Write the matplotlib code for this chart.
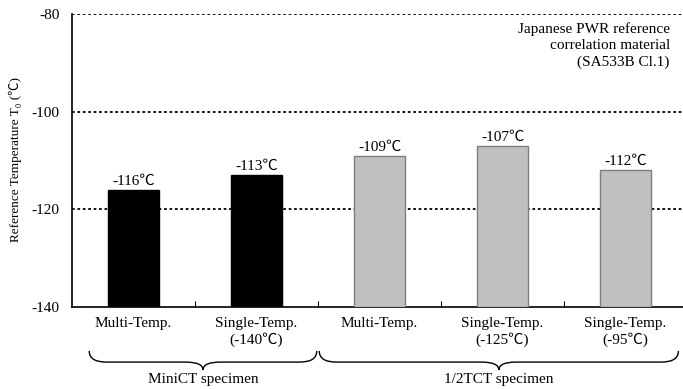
import numpy as np
import matplotlib
matplotlib.use("Agg")
import matplotlib.pyplot as plt
from matplotlib.path import Path
from matplotlib.patches import PathPatch

# Data
categories = ["Multi-Temp.", "Single-Temp.\n(-140\u2103)", "Multi-Temp.",
              "Single-Temp.\n(-125\u2103)", "Single-Temp.\n(-95\u2103)"]
t0_values = [-116, -113, -109, -107, -112]
bar_colors = ["black", "black", "#c0c0c0", "#c0c0c0", "#c0c0c0"]
edge_colors = ["black", "black", "#7f7f7f", "#7f7f7f", "#7f7f7f"]
groups = ["MiniCT specimen", "1/2TCT specimen"]
group_spans = [(-0.36, 1.49), (1.51, 4.43)]
y_base = -140
y_ticks = [-140, -120, -100, -80]

plt.rcParams["font.family"] = ["Liberation Serif", "Noto Sans CJK JP", "DejaVu Sans"]

fig = plt.figure(figsize=(6.83, 3.89), dpi=100)
ax = fig.add_axes([72 / 683, 82 / 389, 615 / 683, 293 / 389])

x = np.arange(len(t0_values))
heights = np.array(t0_values) - y_base
ax.bar(x, heights, bottom=y_base, width=0.41, color=bar_colors,
       edgecolor=edge_colors, linewidth=1.0, zorder=3)

for xi, v in zip(x, t0_values):
    ax.text(xi, v + 0.4, f"{v}\u2103", ha="center", va="bottom", fontsize=11)

ax.set_xlim(-0.5, len(t0_values) - 0.5)
ax.set_ylim(-140, -80)
ax.set_yticks(y_ticks)
ax.set_yticklabels([str(t) for t in y_ticks], fontsize=11)
ax.tick_params(axis="y", length=0, pad=9)

for g in [-120, -100, -80]:
    ax.axhline(g, color="black", linestyle=(0, (1.5, 1.5)), linewidth=1.3, zorder=1)

ax.set_xticks(x)
ax.set_xticklabels(categories, fontsize=11, linespacing=1.2)
ax.tick_params(axis="x", which="major", length=0, pad=7)
ax.set_xticks(np.arange(0.5, len(t0_values) - 0.5, 1), minor=True)
ax.tick_params(axis="x", which="minor", direction="in", length=4, width=0.8)

for s in ["top", "right"]:
    ax.spines[s].set_visible(False)
ax.spines["left"].set_linewidth(1.2)
ax.spines["bottom"].set_linewidth(1.2)

fig.text(15 / 683, (389 - 160) / 389, "Reference Temperature T\u2080 (\u2103)",
         rotation=90, ha="center", va="center", fontsize=9.5)

ax.text(0.972, 0.972, "Japanese PWR reference\ncorrelation material\n(SA533B Cl.1)",
        transform=ax.transAxes, ha="right", va="top", fontsize=11,
        multialignment="right", linespacing=1.3)

# curly braces under the groups
trans = ax.get_xaxis_transform()
y_end, y_mid, y_tip = -0.150, -0.188, -0.215
d = 0.14
for (x0, x1), name in zip(group_spans, groups):
    xm = (x0 + x1) / 2
    verts = [(x0, y_end), (x0, y_mid), (x0 + d, y_mid),
             (xm - d, y_mid), (xm, y_mid), (xm, y_tip),
             (xm, y_mid), (xm + d, y_mid),
             (x1 - d, y_mid), (x1, y_mid), (x1, y_end)]
    codes = [Path.MOVETO, Path.CURVE3, Path.CURVE3,
             Path.LINETO, Path.CURVE3, Path.CURVE3,
             Path.CURVE3, Path.CURVE3,
             Path.LINETO, Path.CURVE3, Path.CURVE3]
    ax.add_patch(PathPatch(Path(verts, codes), transform=trans, fill=False,
                           edgecolor="black", linewidth=1.0, clip_on=False))
    ax.text(xm, -0.248, name, transform=trans, ha="center", va="center", fontsize=11)

fig.savefig("out.png", dpi=100)
